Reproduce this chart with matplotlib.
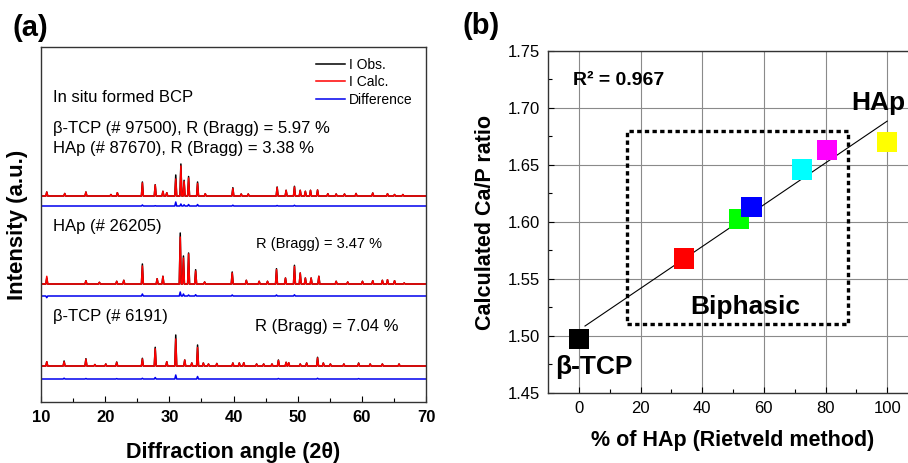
import numpy as np
import matplotlib
matplotlib.use("Agg")
import matplotlib.pyplot as plt
from matplotlib.patches import Rectangle

plt.rcParams["font.family"] = ["Liberation Sans", "DejaVu Sans"]

# ------------------------------------------------------------
# (a) Rietveld refinement: peak positions (2theta) and heights
# ------------------------------------------------------------
bcp_pos = [10.9, 13.7, 17.0, 20.9, 21.9, 25.8, 27.8, 29.0, 29.6, 31.0, 31.8, 32.3,
           33.0, 34.4, 35.6, 39.9, 41.2, 42.3, 46.8, 48.2, 49.5, 50.4, 51.2, 52.0,
           53.1, 54.7, 56.0, 57.3, 59.1, 61.7, 64.0, 65.1, 66.4]
bcp_obs = [4, 2.5, 4, 1.5, 3.3, 14, 11.3, 4.7, 3.3, 21, 32, 15.7,
           19.5, 14, 2.3, 8.3, 2, 2, 9, 5.7, 9.7, 5.7, 4.7, 5.7,
           6, 2.3, 2, 2, 2.5, 3, 2.3, 1.5, 1.5]
bcp_calc = [4, 2.5, 4, 1.5, 3.3, 13, 11.0, 4.7, 3.3, 17, 30, 14.5,
            18.0, 12.5, 2.3, 7.5, 2, 2, 8.5, 5.7, 9.0, 5.7, 4.7, 5.7,
            6, 2.3, 2, 2, 2.5, 3, 2.3, 1.5, 1.5]

hap_pos = [10.9, 17.0, 19.1, 21.8, 22.9, 25.8, 28.1, 29.0, 31.7, 32.2, 33.0, 34.1,
           35.5, 39.8, 42.0, 44.0, 45.3, 46.7, 48.1, 49.5, 50.4, 51.2, 52.1, 53.3,
           56.0, 57.8, 60.1, 61.7, 63.2, 64.0, 65.1, 66.6]
hap_obs = [6, 3.3, 1.7, 2.7, 3.7, 20, 5.3, 7.7, 51, 28, 31, 14.3,
           2, 12, 3.7, 2.7, 2.7, 15.3, 6, 18.7, 11, 6, 6, 7.7,
           2.7, 2, 2.7, 3.3, 3.7, 4.3, 3.3, 1]
hap_calc = [7.7, 3.3, 1.7, 2.7, 3.7, 18, 5.3, 7.7, 47, 26, 30, 13,
            2, 11, 3.7, 2.7, 2.7, 14.3, 6, 17.5, 11, 6, 6, 7.7,
            2.7, 2, 2.7, 3.3, 3.7, 4.3, 3.3, 1]

tcp_pos = [10.9, 13.6, 17.0, 18.4, 20.1, 21.8, 25.8, 27.8, 29.6, 31.0, 32.4, 33.5,
           34.4, 35.3, 36.1, 37.4, 39.9, 40.9, 41.6, 43.6, 44.7, 46.0, 47.0, 48.2,
           48.6, 50.4, 51.4, 53.1, 54.0, 55.1, 57.2, 59.5, 61.3, 63.2, 65.8]
tcp_obs = [4.3, 5, 7.3, 1.5, 2, 4, 7.7, 18.7, 4.3, 31, 6, 3,
           21, 3, 2, 2.5, 3, 3, 3.3, 2, 2, 2, 6, 3.7,
           3.3, 2, 3, 8.7, 3, 2, 2, 3, 2, 2, 2]
tcp_calc = [4.3, 4.2, 6.8, 1.5, 2, 3.6, 7.0, 17.2, 4.3, 27, 6, 3,
            18.5, 3, 2, 2.5, 3, 3, 3.3, 2, 2, 2, 5.5, 3.7,
            3.3, 2, 3, 8.0, 3, 2, 2, 2.6, 2, 2, 2]

# ------------------------------------------------------------
# (b) Ca/P ratio vs. HAp fraction
# ------------------------------------------------------------
hap_percent = [0, 34, 52, 56, 72.5, 80.5, 100]
cap_ratio = [1.497, 1.568, 1.603, 1.613, 1.646, 1.663, 1.670]
point_colors = ["#000000", "#ff0000", "#00ff00", "#0000ff", "#00ffff", "#ff00ff", "#ffff00"]
fit_range = [2, 100]
biphasic_x = [15.5, 87.4]
biphasic_y = [1.5105, 1.680]


def profile(pos, heights, base):
    # piecewise-linear stick profile: every peak becomes a narrow spike
    xs, ys = [10.0], [base]
    for p, h in zip(pos, heights):
        xs += [p - 0.15, p, p + 0.15]
        ys += [base, base + h, base]
    xs.append(70.0)
    ys.append(base)
    return np.array(xs), np.array(ys)


fig = plt.figure(figsize=(9.08, 4.63), dpi=100)

# ---------------- panel (a) ----------------
ax1 = fig.add_axes([41 / 908, 61 / 463, 385 / 908, 355 / 463])

patterns = [
    (bcp_pos, bcp_obs, bcp_calc, 206, 196),
    (hap_pos, hap_obs, hap_calc, 118, 106),
    (tcp_pos, tcp_obs, tcp_calc, 36, 23),
]
for i, (pos, obs, calc, base, dbase) in enumerate(patterns):
    x, y_obs = profile(pos, obs, base)
    _, y_calc = profile(pos, calc, base)
    y_diff = y_obs - y_calc + dbase
    ax1.plot(x, y_obs, color="black", lw=1.1, label="I Obs." if i == 0 else None)
    ax1.plot(x, y_calc, color="#ff0000", lw=1.1, label="I Calc." if i == 0 else None)
    ax1.plot(x, y_diff, color="#0000ee", lw=1.1, label="Difference" if i == 0 else None)

ax1.set_xlim(10, 70)
ax1.set_ylim(0, 355)
ax1.set_yticks([])
ax1.set_xticks(range(10, 71, 10))
ax1.set_xticks(range(15, 70, 10), minor=True)
ax1.tick_params(axis="x", which="major", direction="in", length=4, width=0.8,
                labelsize=12, pad=6)
ax1.tick_params(axis="x", which="minor", direction="in", length=3, width=0.8)
for lab in ax1.get_xticklabels():
    lab.set_fontweight("bold")
for sp in ax1.spines.values():
    sp.set_color("#333333")
    sp.set_linewidth(1.0)

ax1.set_xlabel("Diffraction angle (2θ)", fontsize=15.5, fontweight="bold", labelpad=12)
ax1.set_ylabel("Intensity (a.u.)", fontsize=16, fontweight="bold", labelpad=9)

ax1.text(11.9, 305, "In situ formed BCP", fontsize=12, va="center")
ax1.text(11.9, 274, "β-TCP (# 97500), R (Bragg) = 5.97 %", fontsize=12, va="center")
ax1.text(11.9, 254, "HAp (# 87670), R (Bragg) = 3.38 %", fontsize=12, va="center")
ax1.text(11.9, 175, "HAp (# 26205)", fontsize=12, va="center")
ax1.text(43.5, 158, "R (Bragg) = 3.47 %", fontsize=10.5, va="center")
ax1.text(11.9, 85, "β-TCP (# 6191)", fontsize=12, va="center")
ax1.text(43.3, 75, "R (Bragg) = 7.04 %", fontsize=12, va="center")

ax1.legend(loc="upper right", bbox_to_anchor=(0.965, 0.97), frameon=False,
           fontsize=10, handlelength=2.1, handletextpad=0.3, labelspacing=0.25,
           borderpad=0, borderaxespad=0)

fig.text(12 / 908, 1 - 28 / 463, "(a)", fontsize=21, fontweight="bold", va="center")

# ---------------- panel (b) ----------------
ax2 = fig.add_axes([548 / 908, 70 / 463, 370 / 908, 342 / 463])

ax2.grid(True, color="#8a8a8a", lw=0.8)
ax2.set_axisbelow(True)

slope, intercept = np.polyfit(hap_percent, cap_ratio, 1)
fx = np.array(fit_range)
ax2.plot(fx, slope * fx + intercept, color="black", lw=0.8, zorder=2)

ax2.scatter(hap_percent, cap_ratio, marker="s", s=210, c=point_colors,
            linewidths=0, zorder=3)

ax2.add_patch(Rectangle((biphasic_x[0], biphasic_y[0]),
                        biphasic_x[1] - biphasic_x[0], biphasic_y[1] - biphasic_y[0],
                        fill=False, edgecolor="black", lw=2.4,
                        linestyle=(0, (1.3, 1.0)), zorder=2))

ax2.set_xlim(-10, 110)
ax2.set_ylim(1.45, 1.75)
ax2.set_xticks(range(0, 101, 20))
ax2.set_xticks(range(10, 111, 20), minor=True)
ax2.set_yticks(np.arange(1.45, 1.751, 0.05))
ax2.set_yticks(np.arange(1.475, 1.75, 0.05), minor=True)
ax2.yaxis.set_major_formatter(matplotlib.ticker.FormatStrFormatter("%.2f"))
ax2.tick_params(which="major", direction="in", length=4, width=0.8, labelsize=12)
ax2.tick_params(axis="y", which="major", pad=6)
ax2.tick_params(axis="x", which="major", pad=6)
ax2.tick_params(which="minor", direction="in", length=3, width=0.8)
for sp in ax2.spines.values():
    sp.set_color("#333333")
    sp.set_linewidth(1.0)

ax2.set_xlabel("% of HAp (Rietveld method)", fontsize=15.5, fontweight="bold", labelpad=10)
ax2.set_ylabel("Calculated Ca/P ratio", fontsize=15.5, fontweight="bold", labelpad=8)

ax2.text(-1.9, 1.7237, "R² = 0.967", fontsize=14, fontweight="bold", va="center")
ax2.text(88.3, 1.7044, "HAp", fontsize=19, fontweight="bold", va="center")
ax2.text(-7.8, 1.4728, "β-TCP", fontsize=19, fontweight="bold", va="center")
ax2.text(54.0, 1.5254, "Biphasic", fontsize=19, fontweight="bold",
         va="center", ha="center")

fig.text(463 / 908, 1 - 26 / 463, "(b)", fontsize=21, fontweight="bold", va="center")

fig.savefig("out.png", dpi=100)
